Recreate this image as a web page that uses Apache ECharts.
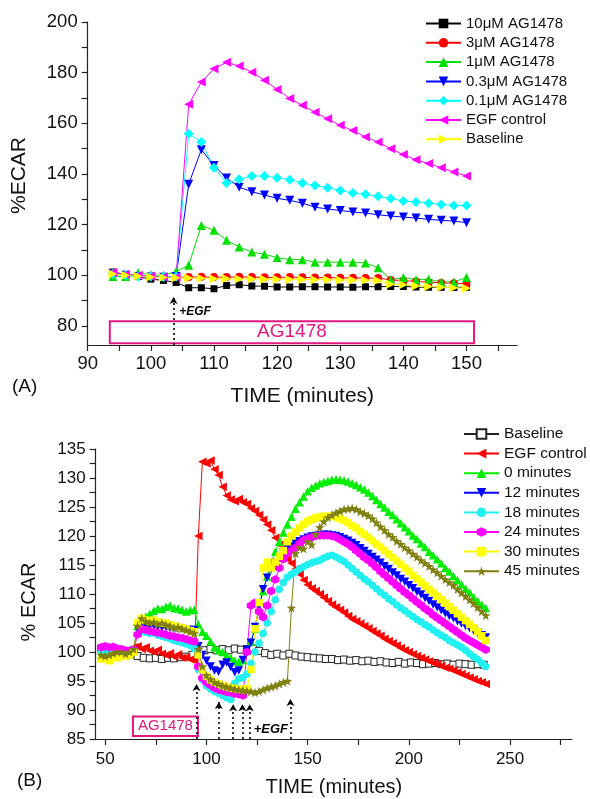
<!DOCTYPE html>
<html><head><meta charset="utf-8">
<script src="https://cdn.jsdelivr.net/npm/echarts@6/dist/echarts.min.js"></script>
<style>html,body{margin:0;padding:0;background:#fff}#c{width:590px;height:799px}</style>
</head><body><div id="c"></div>
<script>
const FONT = '"Liberation Sans", Arial, Helvetica, sans-serif';

// ---------- Panel A ----------
const tA = [94,96,98,100,102,104,106,108,110,112,114,116,118,120,122,124,126,128,130,132,134,136,138,140,142,144,146,148,150];
const a10uM = [101.3,100.3,99.5,98.5,98,97.2,95.1,95.1,94.7,96,96.3,95.8,95.7,95.4,95.4,95.5,95.5,95.4,95.4,95.3,95.5,95.5,95.6,95.6,95.4,95.3,95.3,95.2,95.3];
const a3uM = [101,100.2,99.8,99.5,99.3,99.2,99.3,99.4,99.3,99.3,99.4,99.3,99.2,99.2,99.3,99.2,99.1,99.1,99,99,98.9,98.9,98.2,97.9,97.6,97.3,97,96.9,96.7];
const a1uM = [99.5,99.5,101,100.2,100,101.5,104,119.7,117.8,113.8,111.2,109.2,108.3,107,106.2,106.2,105.2,105.2,105.2,105.2,104.9,103,98.3,99.1,98.3,98.5,97.4,97.4,99.1];
const a03uM = [100.5,100,99.5,99.3,99.2,99.5,136,149.6,143.4,138.4,134.8,133,131.7,130.4,129.6,128.5,126.9,126.2,125.6,125,124.6,123.9,123.4,123,122.6,122.1,121.7,121.4,120.8];
const a01uM = [100.5,100,99.5,99.5,99.3,99.5,155.9,152.6,142.5,136.4,137.9,139.2,139.2,138.5,137.7,136.4,135.5,134.6,133.5,132.5,132,131.2,130.3,129.3,128.9,128.5,128,127.6,127.6];
const aEGF = [101,100.3,100,99.6,99.3,99.3,167.5,176.3,181.5,184.1,182.6,180.2,177,173.4,169.8,167.1,164.4,161.8,159.2,157.2,154.6,152.6,150,147.7,145.6,144.1,142.5,140.8,139.2];
const aBase = [100.5,100,99.6,99.3,99.1,99,98.9,98.8,98.7,98.7,98.6,98.6,98.5,98.5,98.4,98.4,98.3,98.3,98.2,98.2,98.1,98,96.5,96.3,95.8,95.6,95.3,95.1,94.9];
const namesA = ['10\u03bcM AG1478','3\u03bcM AG1478','1\u03bcM AG1478','0.3\u03bcM AG1478','0.1\u03bcM AG1478','EGF control','Baseline'];
const xTicksA = [90,95,100,105,110,115,120,125,130,135,140,145,150,155];
const xLabelsA = [90,100,110,120,130,140,150];
const yTicksA = [80,90,100,110,120,130,140,150,160,170,180,190,200];
const yLabelsA = [80,100,120,140,160,180,200];
const arrowTA = [103.6], arrowTopA = [91.4];
const boxA = [[93.5, 81.9],[151.2, 73.2]];

// ---------- Panel B ----------
const tB = [48,50,52,54,56,58,60,62,64,66,68,70,72,74,76,78,80,82,84,86,88,90,92,94,96,98,100,102,104,106,108,110,112,114,116,118,120,122,124,126,128,130,132,134,136,138,140,142,144,146,148,150,152,154,156,158,160,162,164,166,168,170,172,174,176,178,180,182,184,186,188,190,192,194,196,198,200,202,204,206,208,210,212,214,216,218,220,222,224,226,228,230,232,234,236,238];
const tBase = [48,51,54,57,60,63,66,69,72,75,78,81,84,87,90,93,96,99,102,105,108,111,114,117,120,123,126,129,132,135,138,141,144,147,150,153,156,159,162,165,168,171,174,177,180,183,186,189,192,195,198,201,204,207,210,213,216,219,222,225,228,231,234,237];
const bBase = [100.6,100.4,100.2,100,99.8,99.6,99.3,99,98.9,99,98.8,99,98.9,99.1,99.2,99.5,100,100.3,100.5,100.3,100.5,100.3,100.6,100.4,100.5,100.6,100.2,99.8,99.5,99.7,99.4,99.7,99.4,99.2,99.1,99,98.9,98.8,98.8,98.6,98.7,98.5,98.6,98.4,98.5,98.3,98.4,98.2,98.1,98.3,98,98.2,98.1,97.9,98,98.1,97.9,98,97.8,98,97.9,97.8,97.9,97.8];
const bEGF = [100,100.2,100,99.8,100,100.2,100,100.3,100.8,
 101,100.5,100.8,100.2,100,100.4,99.7,99.5,99.8,99.2,99.6,99,99.1,98.7,98.5,
 120,132.8,132.5,133,131.5,130.5,128.5,127,126.3,126,126.4,125.8,
 125.5,124.8,124.3,123.6,122.8,122,121,119.7,118.5,117.3,116,115.3,114.3,113.4,112.4,111.6,111,110.5,110,109.4,108.8,108.2,107.7,107.3,106.8,106.2,105.7,105.3,104.9,104.5,104.1,103.6,103.2,102.8,102.3,101.9,101.5,101.1,100.7,100.3,100,99.6,99.3,99,98.7,98.4,98.1,97.9,97.6,97.3,97.1,96.8,96.5,96.2,95.9,95.6,95.3,95,94.8,94.5];
const b0 = [99.6,100,99.5,100.2,99.8,100.1,99.7,100,100.4,
 104.5,105.6,106.1,106.6,107.1,107.5,107.4,107.8,108,107.6,107.5,107.3,107,107.2,107.3,
 104.8,103.5,102.8,101.8,100.8,100.3,100,99.4,99,98.5,98.3,98.6,
 100.2,101.8,104,107.5,110.5,113,115.3,117.3,119,120.6,122,123.3,124.7,125.8,126.8,127.7,128.3,128.7,129.1,129.3,129.5,129.7,129.8,129.7,129.6,129.4,129.1,128.8,128.4,128,127.5,126.9,126.2,125.5,124.9,124.2,123.6,122.9,122.2,121.5,120.8,120.1,119.5,118.7,118.1,117.3,116.7,116,115.3,114.5,113.9,113.1,112.4,111.7,110.9,110.3,109.5,108.8,108.2,107.6];
const b12 = [100.2,100.5,100,99.8,100.2,100,99.6,99.5,100.2,
 104,104.8,104.6,104.5,104.6,104.4,104.3,104.3,104.2,104.1,104,104,103.9,103.8,103.8,
 101,99.5,98.5,97.5,96.8,96.6,97.8,98.2,97.4,96.5,96.8,98.6,
 100.4,101.6,104.3,107.8,110.8,112.8,114.3,115.4,116.3,117.1,117.7,118.2,118.7,119.1,119.4,119.7,119.9,120,120.1,120.2,120.2,120.1,120,119.8,119.5,119.2,118.8,118.4,117.9,117.4,116.9,116.4,115.9,115.4,114.8,114.3,113.7,113.2,112.6,112.1,111.5,111,110.4,109.9,109.3,108.8,108.2,107.7,107.2,106.7,106.2,105.8,105.3,104.9,104.5,104.1,103.7,103.3,102.9,102.5];
const b18 = [100,99.6,100.1,99.8,100.3,100,99.7,100.2,100.4,
 103,103.6,103.4,103.2,103.3,102.9,102.7,102.5,102.3,102,101.8,101.6,101.4,101.1,100.6,
 97,95.2,94.2,93.6,93.2,92.9,92.5,92.1,91.8,94.6,95.4,95.6,
 96.2,98,100,101.5,103.2,105,107,109,110.8,112,112.9,113.4,113.8,114.3,114.7,115.1,115.4,115.6,115.8,116.2,116.5,116.7,116.4,116,115.6,115,114.4,113.8,113.2,112.6,112.1,111.5,110.9,110.3,109.8,109.2,108.7,108.1,107.6,107.1,106.6,106.1,105.6,105.2,104.7,104.3,103.8,103.3,102.9,102.5,102,101.6,101.2,100.8,100.3,99.7,99.2,98.7,98.1,97.5];
const b24 = [100.8,101,100.8,100.9,100.6,100.5,100.3,100.2,100.4,
 103,104,103.8,103.6,103.5,103.3,103.2,103,102.8,102.7,102.5,102.4,102.2,102,101.8,
 97.5,95.5,94.8,94.3,93.8,93.5,93.3,93.1,93,92.8,92.7,92.5,
 100,108,108.5,107,106,108,110.5,112.5,114.5,116,117,117.5,118,118.7,119.3,119.6,119.8,120,120.1,120.1,120.1,120,119.8,119.4,119,118.6,118.1,117.5,116.9,116.3,115.8,115.2,114.6,113.9,113.3,112.7,112.1,111.5,110.9,110.3,109.8,109.2,108.6,108.1,107.5,107,106.4,105.9,105.4,104.9,104.4,103.9,103.4,102.9,102.4,102,101.6,101.2,100.8,100.4];
const b30 = [98.8,99,98.5,99.2,99,99.5,99.3,99.5,100,
 105,105.8,105.5,105.3,105.5,105.2,105,105,104.7,104.5,104.3,104.2,104,103.7,103.5,
 99.5,97,95.8,95.2,94.8,94.5,94.2,94,93.8,93.7,93.6,93.5,
 93.7,97,104,108.5,114.5,115.5,114.5,115.5,116.5,117.5,119,120,120.7,121.4,122,122.5,122.8,123.1,123.3,123.4,123.4,123.4,123.3,123,122.7,122.3,121.8,121.4,120.8,120.3,119.8,119.2,118.6,118.1,117.5,116.9,116.3,115.7,115.1,114.5,113.9,113.2,112.6,112,111.4,110.8,110.2,109.6,109,108.4,107.8,107.2,106.6,106,105.4,104.8,104.2,103.5,102.8,102];
const b45 = [99.5,99.3,99.5,99.8,100,100,99.7,100,100.5,
 104.5,105.8,105.3,105,105.2,104.8,105,104.7,104.5,104.2,104.3,104,103.8,103.5,103.2,
 100.5,97.5,96,95.3,94.8,94.5,94.2,94,93.8,93.6,93.5,93.4,
 93.3,93.2,93,93.2,93.5,93.8,94,94.2,94.5,94.8,95,107.6,117,118,117.8,119,118.5,120.3,121.5,122.5,123.2,123.6,124,124.3,124.6,124.7,124.8,124.6,124.2,123.9,123.5,123,122.3,121.6,121,120.3,119.8,119.1,118.6,118,117.5,116.9,116.4,115.8,115.3,114.8,114.2,113.7,113.1,112.5,112,111.5,110.8,110.2,109.6,109,108.4,107.7,107,106.3];
const namesB = ['Baseline ','EGF control ','0 minutes','12 minutes','18 minutes','24 minutes','30 minutes','45 minutes'];
const xTicksB = [50,75,100,125,150,175,200,225,250,275];
const xLabelsB = [50,100,150,200,250];
const yTicksB = [85,87.5,90,92.5,95,97.5,100,102.5,105,107.5,110,112.5,115,117.5,120,122.5,125,127.5,130,132.5,135];
const yLabelsB = [85,90,95,100,105,110,115,120,125,130,135];
const arrowTB = [95.1,106.1,113.2,117.8,121.4,141.5];
const arrowTopB = [94.5,91.4,91,91,91,91.9];
const boxB = [[63.7, 88.9],[95.8, 85.5]];

// ---------- build ----------
const HEX = 'path://M0,-10 L8.66,-5 L8.66,5 L0,10 L-8.66,5 L-8.66,-5 Z';
const STAR = 'path://M0,-10 L2.35,-3.24 L9.51,-3.09 L3.8,1.24 L5.88,8.09 L0,4 L-5.88,8.09 L-3.8,1.24 L-9.51,-3.09 L-2.35,-3.24 Z';
const PINK = '#e0187f';
function pairs(t, v){ return t.map((x,i)=>[x, v[i]]); }
function ser(idx, name, t, v, color, symbol, size, rot, extra){
  return Object.assign({
    type:'line', name, xAxisIndex:idx, yAxisIndex:idx, data:pairs(t,v),
    symbol, symbolSize:size, symbolRotate:rot||0, showSymbol:true,
    itemStyle:{color}, lineStyle:{color, width:1}, emphasis:{disabled:true}
  }, extra||{});
}
function axis(idx, min, max, ticks, labels, fs, name, nameGap, nameFs, labelMargin, namePad){
  return {
    type:'value', gridIndex:idx, min, max, scale:true,
    axisLine:{show:true, onZero:false, lineStyle:{color:'#222', width:1.2}},
    axisTick:{show:true, length:6, customValues:ticks, lineStyle:{color:'#222', width:1.2}},
    axisLabel:{customValues:labels, fontSize:fs, color:'#111', fontFamily:FONT, margin:labelMargin},
    splitLine:{show:false},
    name, nameLocation:'middle', nameGap,
    nameTextStyle:{fontSize:nameFs, color:'#111', fontFamily:FONT, padding:namePad||0}
  };
}
function arrows(ts, tops, bottom){
  return ts.map((t,i)=>[{coord:[t,bottom]},{coord:[t,tops[i]]}]);
}
const markStyle = (box, fs, arrT, arrTop, bottom, egfAt, egfFs) => ({
  markArea:{silent:true, itemStyle:{color:'rgba(0,0,0,0)', borderColor:PINK, borderWidth:2},
    label:{show:true, position:'inside', formatter:'AG1478', color:PINK, fontSize:fs, fontFamily:FONT},
    data:[[{coord:box[0]},{coord:box[1]}]]},
  markLine:{silent:true, symbol:['none','arrow'], symbolSize:[6,7], label:{show:false},
    lineStyle:{type:[2,3], color:'#000', width:1.6}, data:arrows(arrT, arrTop, bottom)},
  markPoint:{silent:true, symbol:'circle', symbolSize:0,
    label:{show:true, position:'inside', formatter:'+EGF', fontStyle:'italic', fontWeight:'bold', fontSize:egfFs, color:'#000', fontFamily:FONT},
    data:[{coord:egfAt}]}
});

const option = {
  animation:false,
  textStyle:{fontFamily:FONT},
  grid:[
    {left:87.7, right:73, top:22, bottom:454, containLabel:false},
    {left:95.7, right:18, top:449, bottom:60, containLabel:false}
  ],
  xAxis:[
    axis(0, 90, 158, xTicksA, xLabelsA, 18.5, 'TIME (minutes)', 41, 21, 9),
    axis(1, 45.3, 280.6, xTicksB, xLabelsB, 17, 'TIME (minutes)', 38, 20, 12)
  ],
  yAxis:[
    axis(0, 72.5, 200, yTicksA, yLabelsA, 18.5, '%ECAR', 58, 21, 10, [0,0,0,16]),
    axis(1, 85, 135, yTicksB, yLabelsB, 17, '% ECAR', 56, 20, 10, [0,16,0,0])
  ],
  legend:[
    {orient:'vertical', left:425, top:16, padding:0, itemWidth:35, itemHeight:12, itemGap:4.3, selectedMode:false,
     textStyle:{fontSize:15, lineHeight:15, color:'#111', fontFamily:FONT}, data:namesA},
    {orient:'vertical', left:463, top:426, padding:0, itemWidth:35, itemHeight:12, itemGap:3.6, selectedMode:false,
     textStyle:{fontSize:15.5, lineHeight:15.5, color:'#111', fontFamily:FONT}, data:namesB}
  ],
  graphic:[
    {type:'text', left:12, top:377, style:{text:'(A)', fontSize:19, fill:'#111', fontFamily:FONT}},
    {type:'text', left:17, top:771, style:{text:'(B)', fontSize:19, fill:'#111', fontFamily:FONT}}
  ],
  series:[
    ser(0, namesA[0], tA, a10uM, '#000000', 'rect', 7),
    ser(0, namesA[1], tA, a3uM, '#ff0000', 'circle', 8),
    ser(0, namesA[2], tA, a1uM, '#00e000', 'triangle', 9),
    ser(0, namesA[3], tA, a03uM, '#0000ff', 'triangle', 9, 180),
    ser(0, namesA[4], tA, a01uM, '#00ffff', 'diamond', 10),
    ser(0, namesA[5], tA, aEGF, '#ff00ff', 'triangle', 9, 90),
    ser(0, namesA[6], tA, aBase, '#ffff00', 'triangle', 9, -90),
    Object.assign({type:'line', xAxisIndex:0, yAxisIndex:0, data:[], name:'annA'},
      markStyle(boxA, 19, arrowTA, arrowTopA, 72.5, [107, 85.8], 12)),
    ser(1, namesB[0], tBase, bBase, '#000000', 'rect', 7, 0, {itemStyle:{color:'#fff', borderColor:'#222', borderWidth:1}, lineStyle:{color:'#222', width:1}}),
    ser(1, namesB[1], tB, bEGF, '#ff0000', 'triangle', 8.5, 90),
    ser(1, namesB[2], tB, b0, '#00ee00', 'triangle', 8.5),
    ser(1, namesB[3], tB, b12, '#0000ff', 'triangle', 8.5, 180),
    ser(1, namesB[4], tB, b18, '#22f0f0', 'circle', 7.5),
    ser(1, namesB[5], tB, b24, '#ff00ff', HEX, 8.5),
    ser(1, namesB[6], tB, b30, '#ffff00', 'rect', 7.5),
    ser(1, namesB[7], tB, b45, '#808010', STAR, 9.5),
    Object.assign({type:'line', xAxisIndex:1, yAxisIndex:1, data:[], name:'annB'},
      markStyle(boxB, 15, arrowTB, arrowTopB, 85, [131.8, 86.7], 13))
  ]
};
const chart = echarts.init(document.getElementById('c'));
chart.setOption(option);
</script>
</body></html>
